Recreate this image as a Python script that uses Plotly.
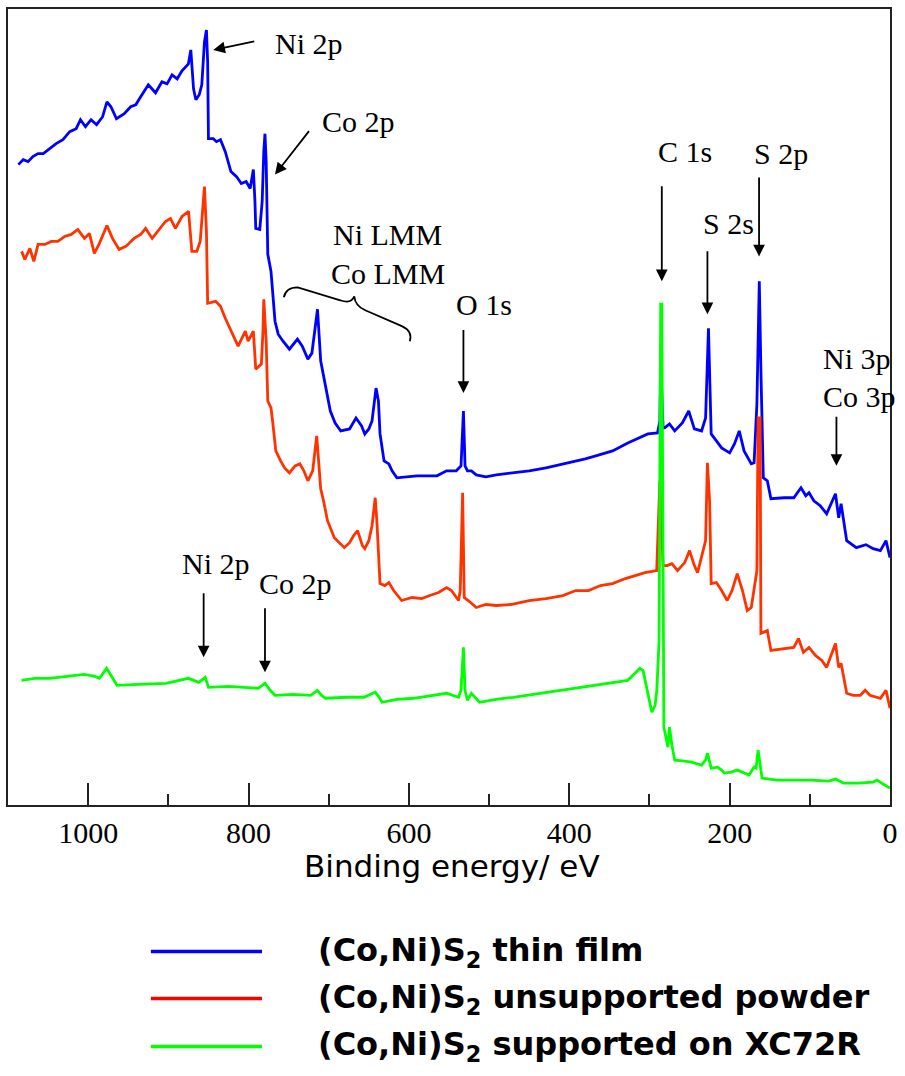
import plotly.graph_objects as go

# ---------------- data (binding energy in eV, intensity in arbitrary units) ----------------
blue_ev = [1087, 1081, 1075, 1069, 1062.5, 1056, 1048, 1040, 1031.5, 1023, 1015, 1009.6, 1003.4, 996.4,
           989.5, 982, 976.6, 971.6, 964.7, 955, 947, 940.7, 934.5, 925, 916, 908, 901.6, 895.4, 889,
           883, 875, 872, 868.6, 865.7, 861.5, 858.3, 855, 852.5, 851, 850, 844, 840, 835, 829, 822, 815,
           809, 803, 798, 794, 792, 791, 786, 783, 781, 779.5, 778, 776, 772, 767, 763, 757, 749, 739, 733,
           726, 721, 718, 714, 710, 704, 698, 692, 685, 674, 666, 659, 655, 650, 646, 641, 638, 636, 631,
           625, 621, 615, 603, 590, 565, 553, 541, 535, 532, 530, 527, 522, 516, 504, 491, 470, 450, 429,
           400, 380, 367, 346, 327, 302, 290, 287, 286, 283, 281, 275, 268.5, 259, 251, 244, 235, 230,
           226.4, 223, 216.5, 210, 200, 194, 188, 182, 173, 169.5, 166, 163, 161, 158, 153, 148.5, 132,
           120, 111, 105, 101, 95, 87, 79, 68, 64, 61, 54, 42, 30, 21, 12, 5, 0]
blue_int = [642, 647, 645, 650, 653, 653, 658, 663, 667, 675, 678, 687, 680, 687,
            682, 690, 705, 700, 688, 693, 700, 702, 710, 722, 714, 725, 723, 732, 728,
            736, 743, 757, 718, 707, 712, 722, 765, 777, 745, 668, 668, 665, 667, 655, 635, 630,
            623, 625, 618, 637, 605, 578, 577, 605, 655, 673, 645, 552, 535, 485, 472, 465, 457, 467, 460,
            447, 453, 472, 497, 445, 418, 395, 383, 375, 377, 388, 380, 372, 377, 385, 418, 405, 372, 345,
            342, 335, 328, 329, 330, 330, 335, 335, 340, 395, 340, 335, 335, 331, 329, 331, 333, 335, 338,
            343, 347, 350, 355, 363, 372, 373, 385, 443, 378, 378, 382, 375, 383, 395, 377, 375, 388,
            478, 372, 365, 358, 353, 362, 375, 355, 342, 343, 402, 525, 435, 328, 325, 307, 308,
            308, 318, 310, 313, 305, 300, 292, 312, 288, 302, 265, 258, 261, 257, 255, 265, 248]

red_ev = [1083, 1079, 1072.7, 1067.8, 1062.5, 1054, 1046, 1037.7, 1029.4, 1021, 1013, 1004.7, 998.5,
          992.3, 986, 976.6, 969.7, 961.4, 953, 942.8, 934.5, 928.3, 920.2, 912, 903.6, 897.4, 891.2, 883,
          874.8, 870.7, 864.5, 860.3, 855, 852.5, 851, 841, 835, 829, 822, 813, 804, 800.5, 794, 792,
          791, 784, 782, 781, 778, 776, 772, 770, 766, 760, 755, 749, 742, 736, 731, 726, 720, 715, 710,
          706.5, 701.5, 693, 680.5, 674, 669, 664, 658, 655, 650, 646, 642, 640, 636, 630, 625, 619, 609,
          596, 584, 574, 563, 553, 547, 538, 536, 533, 531, 526, 516, 504, 491, 473, 450, 429, 408, 392,
          376, 361, 346, 330, 318, 305.6, 291, 287, 283, 278, 272, 265, 256, 250, 244, 240, 234, 230,
          227.7, 225, 223, 216.5, 210, 203, 197, 190.5, 184, 178, 173, 169.5, 166, 164.5, 162, 161, 153,
          148.5, 132, 120, 114, 108, 101, 93, 85, 79, 68, 64, 61, 54, 46, 37, 31, 25, 12, 5, 0]
red_int = [555, 547, 558, 545, 562, 562, 565, 565, 570, 572, 577, 568, 573,
           553, 563, 581, 568, 557, 560, 568, 572, 578, 568, 577, 585, 588, 578, 590,
           595, 555, 555, 565, 620, 575, 503, 505, 500, 488, 475, 460, 475, 465, 475, 455,
           437, 442, 475, 507, 465, 405, 398, 385, 355, 345, 338, 333, 340, 342, 335, 325, 335, 370, 317,
           305, 285, 268, 258, 263, 270, 275, 260, 257, 265, 280, 308, 285, 222, 220, 223, 215, 205,
           208, 207, 210, 213, 218, 215, 205, 215, 313, 208, 205, 198, 201, 200, 201, 205, 207, 210, 215,
           215, 220, 222, 227, 230, 233, 235, 325, 240, 240, 242, 235, 243, 255, 240, 233, 252, 265,
           343, 305, 222, 223, 215, 205, 215, 232, 215, 195, 198, 218, 235, 388, 388, 172, 175,
           155, 157, 158, 167, 153, 158, 150, 145, 138, 162, 138, 142, 112, 110, 110, 115, 110, 107, 115, 97]

green_ev = [1083, 1066.5, 1048, 1023, 1005, 992, 986, 977, 971, 964, 937, 903, 875, 862, 854, 850, 825,
            800.5, 788, 779.5, 773, 767, 745, 722.6, 714, 709, 704, 677, 656, 642, 637, 633.5, 615, 594,
            571.6, 553, 538, 535, 532, 530, 527, 522, 512, 491, 470, 429, 388.5, 367, 346, 327, 318, 312,
            308, 305.6, 300.7, 297, 293, 290.8, 288, 287, 286, 284.6, 283, 282, 277, 276, 275, 272, 268.5,
            256, 247.5, 235, 230, 227.7, 225, 223, 215, 210, 206.6, 198, 190.5, 182, 175.7, 169.5, 167,
            164.5, 162, 159.6, 141, 120, 99, 76.7, 68, 58, 39.6, 21, 16, 8.7, 0]
green_int = [125, 127, 127, 129, 131, 129, 127, 137, 129, 120, 121, 122, 127, 123, 128, 118, 119,
             118, 117, 122, 115, 110, 111, 110, 115, 110, 107, 108, 108, 113, 108, 103, 106, 107,
             110, 112, 108, 115, 158, 115, 105, 112, 103, 106, 108, 113, 118, 120, 123, 125, 132, 137,
             135, 125, 105, 93, 100, 115, 165, 305, 502, 502, 300, 78, 58, 70, 78, 60, 45,
             44, 43, 40, 45, 52, 43, 37, 38, 35, 32, 33, 35, 32, 30, 38, 37,
             55, 43, 27, 25, 25, 25, 24, 26, 22, 22, 23, 25, 21, 17]

series_names = ["(Co,Ni)S<sub>2</sub> thin film",
                "(Co,Ni)S<sub>2</sub> unsupported powder",
                "(Co,Ni)S<sub>2</sub> supported on XC72R"]
series_colors = ["#0000FF", "#FF3300", "#00FF00"]
legend_colors = ["#0000FF", "#FF0000", "#00FF00"]

tick_vals = [1000, 800, 600, 400, 200, 0]
tick_text = ["1000", "800", "600", "400", "200", "0"]

# peak labels: (text, x, y) in data coordinates
peak_labels = [("Ni 2p", 724, 763), ("Co 2p", 663, 685), ("Ni LMM", 627, 572), ("Co LMM", 626, 533),
               ("O 1s", 506, 502), ("C 1s", 256, 655), ("S 2p", 136, 653), ("S 2s", 202, 583),
               ("Ni 2p", 841, 242), ("Co 2p", 742, 222)]
# arrows: tip x, tip y (data), tail offset in pixels (ax, ay)
arrows = [(844, 757, 43, -9), (767, 632, 36, -46), (532, 413, 0, -66), (284.6, 525, 0, -98),
          (227.7, 492, 0, -66), (163.3, 550, 0, -82), (66.8, 340, 0, -52), (856, 148, 0, -67),
          (779.5, 133, 0, -67)]

# ---------------- figure ----------------
fig = go.Figure()
for ev, inten, col, name in [(blue_ev, blue_int, series_colors[0], series_names[0]),
                             (red_ev, red_int, series_colors[1], series_names[1]),
                             (green_ev, green_int, series_colors[2], series_names[2])]:
    fig.add_trace(go.Scatter(x=ev, y=inten, mode="lines", name=name,
                             line=dict(color=col, width=2.8), showlegend=False))

serif = "Liberation Serif"
sans = "DejaVu Sans"

annotations = []
for txt, x, y in peak_labels:
    annotations.append(dict(x=x, y=y, xref="x", yref="y", text=txt, showarrow=False,
                            font=dict(family=serif, size=30, color="black"),
                            xanchor="center", yanchor="middle", borderpad=0))
annotations.append(dict(x=85.4, y=448, xref="x", yref="y", text="Ni 3p", showarrow=False,
                        font=dict(family=serif, size=30, color="black"),
                        xanchor="left", yanchor="middle", borderpad=0))
annotations.append(dict(x=85.4, y=410, xref="x", yref="y", text="Co 3p", showarrow=False,
                        font=dict(family=serif, size=30, color="black"),
                        xanchor="left", yanchor="middle", borderpad=0))
for x, y, ax, ay in arrows:
    annotations.append(dict(x=x, y=y, xref="x", yref="y", text=" ", showarrow=True,
                            ax=ax, ay=ay, arrowhead=2, arrowsize=1.3, arrowwidth=1.8,
                            arrowcolor="black", standoff=0, startstandoff=0,
                            font=dict(size=2)))

# x-axis title
annotations.append(dict(x=0.503, y=-0.0764, xref="paper", yref="paper", text="Binding energy/ eV",
                        showarrow=False, font=dict(family=sans, size=31, color="black"),
                        xanchor="center", yanchor="middle"))

# legend (custom)
shapes = []
legend_y = [-0.1842, -0.2431, -0.3033]
for i in range(3):
    shapes.append(dict(type="line", xref="paper", yref="paper", x0=0.162, x1=0.288,
                       y0=legend_y[i], y1=legend_y[i], line=dict(color=legend_colors[i], width=3.5)))
    annotations.append(dict(x=0.3487, y=legend_y[i], xref="paper", yref="paper",
                            text="<b>" + series_names[i] + "</b>", showarrow=False,
                            font=dict(family=sans, size=32, color="black"),
                            xanchor="left", yanchor="middle"))

# brace for LMM
shapes.append(dict(type="path", xref="x", yref="y",
                   path="M 756.0,509 Q 753.5,519 738.7,519 L 685.5,506 Q 671.9,502 668.2,510 "
                        "Q 666.9,500 654.5,496 L 608.8,480 Q 595.1,475 598.9,465",
                   line=dict(color="black", width=1.8)))

fig.update_layout(
    width=905, height=1076,
    margin=dict(l=8, r=8, t=7, b=271),
    plot_bgcolor="white", paper_bgcolor="white",
    xaxis=dict(range=[1100, 0], showgrid=False, zeroline=False, showline=True, mirror=True,
               linecolor="#222", linewidth=1.6, ticks="inside", ticklen=22, tickwidth=1.6,
               tickcolor="#222", tickvals=tick_vals, ticktext=tick_text,
               tickfont=dict(family=serif, size=30, color="black"),
               minor=dict(dtick=100, tick0=0, ticks="inside", ticklen=11, tickwidth=1.6, tickcolor="#222")),
    yaxis=dict(range=[0, 798], showgrid=False, zeroline=False, showline=True, mirror=True,
               linecolor="#222", linewidth=1.6, showticklabels=False, ticks=""),
    annotations=annotations, shapes=shapes,
)

fig.write_html("out.html")
